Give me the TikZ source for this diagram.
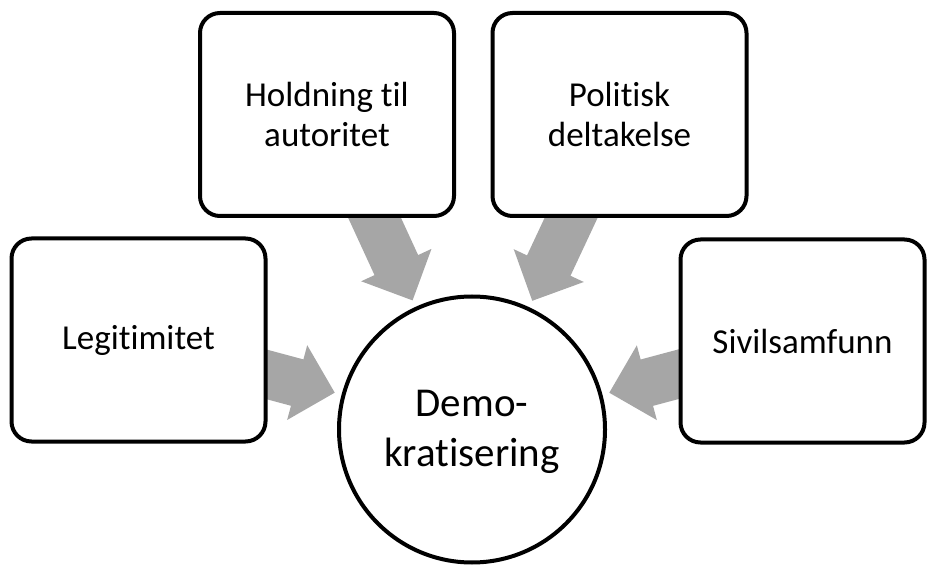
\documentclass[tikz,border=0pt]{standalone}
\usepackage{fontspec}
\setmainfont{Carlito}[Ligatures=NoCommon]
\usetikzlibrary{arrows.meta,backgrounds}
\definecolor{feedgray}{HTML}{A6A6A6}
\tikzstyle{factor} = [rectangle,rounded corners=20pt,minimum width=254pt,minimum height=203pt,draw=black,line width=4pt,fill=white,align=center,font=\fontsize{35}{40}\selectfont]
\tikzstyle{hub} = [circle,minimum size=266pt,draw=black,line width=4pt,fill=white,align=center,font=\fontsize{41}{50}\selectfont]
\tikzstyle{feed} = [draw=feedgray,line width=48pt,-{Triangle[length=39pt,width=75pt]},shorten >=7pt]

\begin{document}
\begin{tikzpicture}[x=1pt,y=1pt]
    \useasboundingbox (0,0) rectangle (928,565);

    % Centre
    \node[hub,text height=82pt] (demo) at (472,135.5) {Demo-\\kratisering};

    % Factors
    \node[factor] (legit) at (138.5,225) {Legitimitet};
    \node[factor] (hold) at (327,450.5) {Holdning til\\autoritet};
    \node[factor] (polit) at (619.5,450.5) {Politisk\\deltakelse};
    \node[factor,minimum width=244pt] (sivil) at (802.5,224) {Sivilsamfunn};

    % arrows
    \begin{scope}[on background layer]
        \draw[feed] (legit.center) -- (demo);
        \draw[feed] (hold.center) -- (demo);
        \draw[feed] (polit.center) -- (demo);
        \draw[feed] (sivil.center) -- (demo);
    \end{scope}
\end{tikzpicture}
\end{document}
